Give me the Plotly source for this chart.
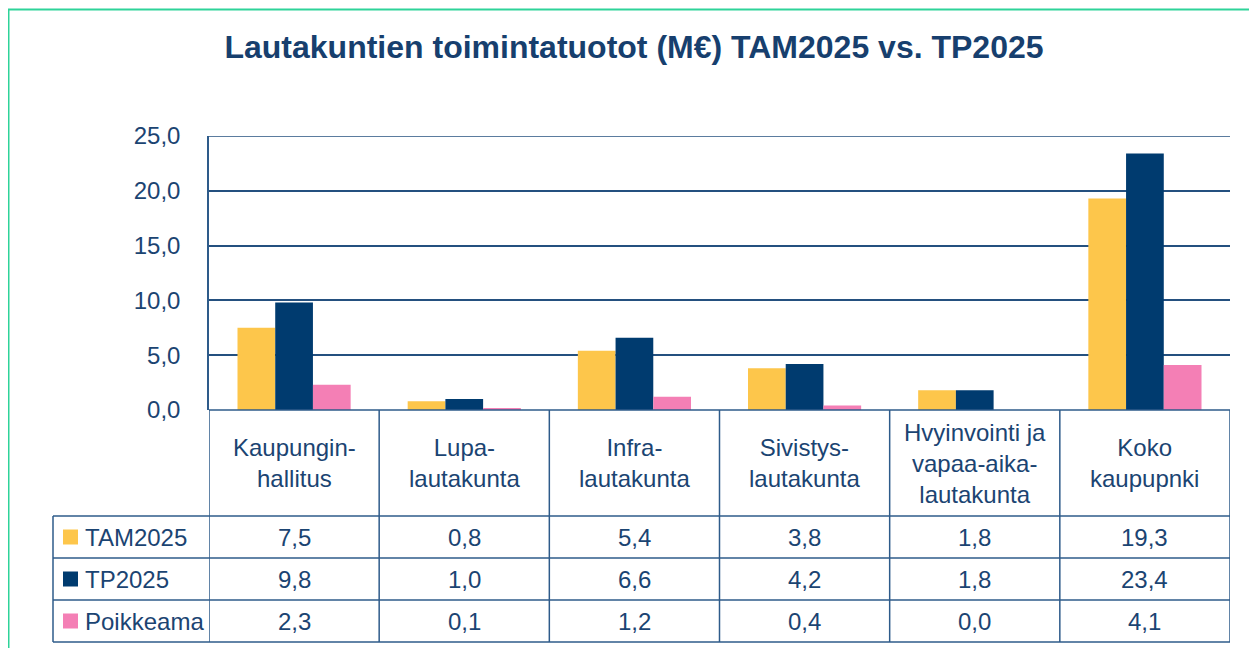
import plotly.graph_objects as go

# data
categories = [
    "Kaupungin-<br>hallitus",
    "Lupa-<br>lautakunta",
    "Infra-<br>lautakunta",
    "Sivistys-<br>lautakunta",
    "Hvyinvointi ja<br>vapaa-aika-<br>lautakunta",
    "Koko<br>kaupupnki",
]
series_names = ["TAM2025", "TP2025", "Poikkeama"]
tam2025 = [7.5, 0.8, 5.4, 3.8, 1.8, 19.3]
tp2025 = [9.8, 1.0, 6.6, 4.2, 1.8, 23.4]
poikkeama = [2.3, 0.1, 1.2, 0.4, 0.0, 4.1]
y_ticks = [0, 5, 10, 15, 20, 25]

W, H = 1257, 648
OFF = 8  # page body margin of the html page
FONT = "Liberation Sans, Arial, sans-serif"
TXT = "#1B4472"
LINE = "#2E5B8A"
GRID = "#24507F"
COLORS = ["#FDC64B", "#003B6F", "#F47FB5"]


def px(v):
    return (v - OFF) / W


def py(v):
    return 1 - (v - OFF) / H


fig = go.Figure()
for name, vals, col in zip(series_names, [tam2025, tp2025, poikkeama], COLORS):
    fig.add_trace(go.Bar(x=categories, y=vals, name=name, marker=dict(color=col, line=dict(width=0))))

# table geometry (screen pixels)
plot_l, plot_r = 209, 1230
plot_t, plot_b = 136, 410
tab_l = 53
row_edges = [516, 558, 600, 642]

shapes = []
# outer green frame
shapes.append(dict(type="rect", xref="paper", yref="paper", x0=px(8.5), x1=1.05, y0=py(9.5), y1=-0.05,
                   line=dict(color="#2ED399", width=2), layer="below"))
# top gridline (at the range edge plotly skips it)
shapes.append(dict(type="line", xref="paper", yref="y", x0=px(plot_l), x1=px(plot_r),
                   y0=max(y_ticks), y1=max(y_ticks), line=dict(color=GRID, width=1.5)))
# header top line
shapes.append(dict(type="line", xref="paper", yref="paper", x0=px(plot_l), x1=px(plot_r),
                   y0=py(plot_b), y1=py(plot_b), line=dict(color=LINE, width=1.5)))
# row lines
for r in row_edges:
    shapes.append(dict(type="line", xref="paper", yref="paper", x0=px(tab_l), x1=px(plot_r),
                       y0=py(r), y1=py(r), line=dict(color=LINE, width=1.5)))
# vertical column lines, placed on the category axis
for i in range(len(categories) + 1):
    shapes.append(dict(type="line", xref="x", yref="paper", x0=i - 0.5, x1=i - 0.5,
                       y0=py(plot_b), y1=py(row_edges[-1]), line=dict(color=LINE, width=1.5)))
shapes.append(dict(type="line", xref="paper", yref="paper", x0=px(tab_l), x1=px(tab_l),
                   y0=py(row_edges[0]), y1=py(row_edges[-1]), line=dict(color=LINE, width=1.5)))

annotations = []
# header cells
for c in categories:
    annotations.append(dict(x=c, xref="x", y=py((plot_b + row_edges[0]) / 2), yref="paper",
                            text=c, showarrow=False, xanchor="center", yanchor="middle",
                            font=dict(family=FONT, size=24, color=TXT)))
# data rows
row_vals = [tam2025, tp2025, poikkeama]
for k, (name, vals, col) in enumerate(zip(series_names, row_vals, COLORS)):
    yc = (row_edges[k] + row_edges[k + 1]) / 2
    shapes.append(dict(type="rect", xref="paper", yref="paper", x0=px(63), x1=px(78),
                       y0=py(yc - 7.5), y1=py(yc + 7.5), fillcolor=col, line=dict(width=0)))
    annotations.append(dict(x=px(83), xref="paper", y=py(yc), yref="paper", text=name,
                            showarrow=False, xanchor="left", yanchor="middle",
                            font=dict(family=FONT, size=24, color=TXT)))
    for c, v in zip(categories, vals):
        annotations.append(dict(x=c, xref="x", y=py(yc), yref="paper",
                                text=f"{v:.1f}".replace(".", ","), showarrow=False,
                                xanchor="center", yanchor="middle",
                                font=dict(family=FONT, size=24, color=TXT)))

fig.update_layout(
    width=W, height=H,
    margin=dict(l=0, r=0, t=0, b=0, autoexpand=False),
    paper_bgcolor="white", plot_bgcolor="white",
    separators=", ",
    barmode="group", bargap=0.335, bargroupgap=0,
    showlegend=False,
    title=dict(text="<b>Lautakuntien toimintatuotot (M€) TAM2025 vs. TP2025</b>",
               x=px(634), xanchor="center", y=py(47), yanchor="middle",
               font=dict(family=FONT, size=32, color="#173F6E")),
    shapes=shapes,
    annotations=annotations,
)
fig.update_xaxes(domain=[px(plot_l), px(plot_r)], range=[-0.5, len(categories) - 0.5],
                 showticklabels=False, showgrid=False, zeroline=False, showline=False, ticks="")
fig.update_yaxes(domain=[py(plot_b), py(plot_t)], range=[0, 25], tickvals=y_ticks, tickformat=".1f",
                 showgrid=True, gridcolor=GRID, gridwidth=1.5, zeroline=False,
                 showline=True, linecolor=LINE, linewidth=1.5, ticks="",
                 ticklabelstandoff=22,
                 tickfont=dict(family=FONT, size=24, color=TXT))

fig.write_html("out.html")
